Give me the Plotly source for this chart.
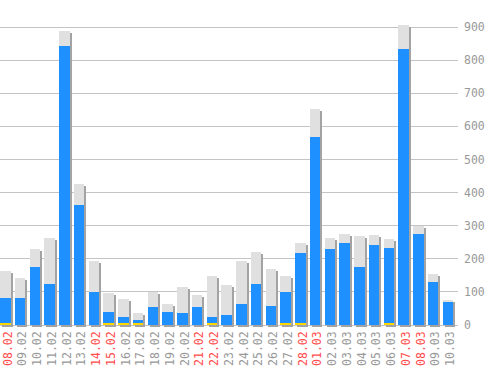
import plotly.graph_objects as go

dates = ["08.02", "09.02", "10.02", "11.02", "12.02", "13.02", "14.02", "15.02",
         "16.02", "17.02", "18.02", "19.02", "20.02", "21.02", "22.02", "23.02",
         "24.02", "25.02", "26.02", "27.02", "28.02", "01.03", "02.03", "03.03",
         "04.03", "05.03", "06.03", "07.03", "08.03", "09.03", "10.03"]
weekend = ["08.02", "14.02", "15.02", "21.02", "22.02", "28.02", "01.03", "07.03", "08.03"]

totals = [163, 142, 230, 263, 888, 426, 193, 97, 79, 36, 101, 63, 115, 91, 148, 121,
          193, 220, 169, 148, 248, 652, 263, 275, 269, 272, 260, 907, 299, 154, 75]
blue = [82, 82, 175, 124, 844, 362, 100, 39, 24, 15, 54, 39, 36, 54, 24, 30,
        63, 124, 57, 100, 218, 568, 229, 248, 175, 242, 233, 835, 275, 130, 70]
yellow = [7, 0, 0, 0, 0, 0, 0, 4, 4, 4, 0, 0, 0, 0, 4, 0,
          0, 0, 0, 4, 4, 0, 0, 0, 0, 0, 4, 0, 0, 0, 0]

y_ticks = [0, 100, 200, 300, 400, 500, 600, 700, 800, 900]

BW = 0.712
OFF = -0.53
SH_X = 0.136
SH_Y = 6.6

fig = go.Figure()
fig.add_trace(go.Bar(x=dates, y=totals, base=[-SH_Y] * len(totals), width=BW,
                     offset=OFF + SH_X, marker=dict(color="#a3a3a3", line=dict(width=0)),
                     hoverinfo="skip"))
fig.add_trace(go.Bar(x=dates, y=totals, width=BW, offset=OFF,
                     marker=dict(color="#e0e0e0", line=dict(width=0))))
fig.add_trace(go.Bar(x=dates, y=blue, width=BW, offset=OFF,
                     marker=dict(color="#1e90ff", line=dict(width=0))))
fig.add_trace(go.Bar(x=dates, y=yellow, width=BW, offset=OFF,
                     marker=dict(color="#ffd700", line=dict(width=0))))

ticktext = [('<span style="color:#ff4d4d">%s</span>' % d) if d in weekend else d for d in dates]

font = dict(family="DejaVu Sans Mono", size=11.5, color="#999999")

fig.update_layout(
    width=498, height=370,
    margin=dict(l=0, r=40, t=10, b=42),
    paper_bgcolor="white", plot_bgcolor="white",
    barmode="overlay", showlegend=False, bargap=0,
    xaxis=dict(type="category", range=[-0.53, 30.52], tickvals=dates, ticktext=ticktext,
               tickangle=-90, tickfont=font, showgrid=False, zeroline=False,
               showline=False, ticks="", automargin=False),
    yaxis=dict(side="right", range=[-9.06, 951.7], tickvals=y_ticks, tickfont=font,
               showgrid=True, gridcolor="#c4c4c4", gridwidth=1, zeroline=False,
               showline=False, ticks="", ticklabelstandoff=5, automargin=False),
)

fig.write_html("out.html", config={"displayModeBar": False},
               post_script="document.body.style.margin='0';document.body.style.overflow='hidden';")
